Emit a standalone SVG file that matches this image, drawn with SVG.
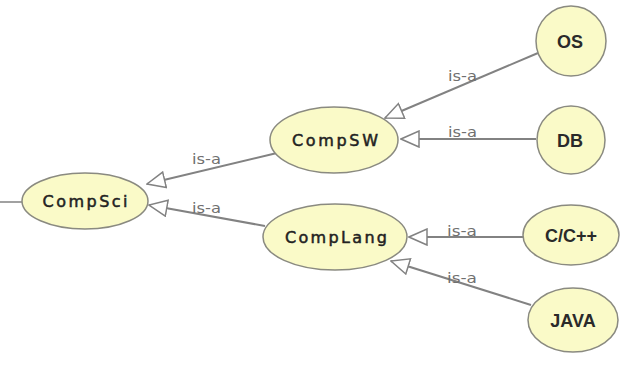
<svg xmlns="http://www.w3.org/2000/svg" width="624" height="369" viewBox="0 0 624 369">
  <style>
    .node { fill: #fafac8; stroke: #8a8a80; stroke-width: 1.5; }
    .label { font-family: "DejaVu Sans", Verdana, sans-serif; font-size: 16px; fill: #222222; stroke: #222222; stroke-width: 0.5; text-anchor: middle; }
    .leaf { font-family: "Liberation Sans", Arial, sans-serif; font-size: 18px; font-weight: bold; fill: #2a2a2a; text-anchor: middle; }
    .edge { stroke: #828282; stroke-width: 2; fill: none; marker-end: url(#isa); }
    .rel { font-family: "DejaVu Sans", Verdana, sans-serif; font-size: 14px; fill: #707070; }
  </style>
  <defs>
    <!-- hollow triangle head for is-a links -->
    <marker id="isa" viewBox="0 0 20 18" refX="19" refY="9" markerWidth="20" markerHeight="18" markerUnits="userSpaceOnUse" orient="auto">
      <path d="M1,1 L19,9 L1,17 Z" fill="#ffffff" stroke="#828282" stroke-width="1.5"/>
    </marker>
  </defs>
  <rect width="624" height="369" fill="#ffffff"/>

  <g id="connectors">
    <line x1="0" y1="202" x2="22" y2="202" stroke="#828282" stroke-width="1.5"/>
    <line class="edge" x1="538" y1="53" x2="385" y2="118"/>
    <line class="edge" x1="536" y1="139" x2="401" y2="139"/>
    <line class="edge" x1="277" y1="153" x2="147" y2="184"/>
    <line class="edge" x1="265" y1="226" x2="149" y2="205"/>
    <line class="edge" x1="523" y1="237" x2="409" y2="237"/>
    <line class="edge" x1="531" y1="305" x2="391" y2="261"/>
    <text class="rel" x="448" y="81" textLength="29" lengthAdjust="spacingAndGlyphs">is-a</text>
    <text class="rel" x="448" y="137" textLength="29" lengthAdjust="spacingAndGlyphs">is-a</text>
    <text class="rel" x="192" y="164" textLength="29" lengthAdjust="spacingAndGlyphs">is-a</text>
    <text class="rel" x="192" y="213" textLength="29" lengthAdjust="spacingAndGlyphs">is-a</text>
    <text class="rel" x="447" y="236" textLength="30" lengthAdjust="spacingAndGlyphs">is-a</text>
    <text class="rel" x="447" y="283" textLength="30" lengthAdjust="spacingAndGlyphs">is-a</text>
  </g>

  <g id="CompSci">
    <ellipse class="node" cx="85" cy="201" rx="63" ry="28"/>
    <text class="label" x="85" y="207" textLength="85" lengthAdjust="spacing">CompSci</text>
  </g>
  <g id="CompSW">
    <ellipse class="node" cx="334" cy="140" rx="64" ry="33"/>
    <text class="label" x="335" y="146" textLength="86" lengthAdjust="spacing">CompSW</text>
  </g>
  <g id="CompLang">
    <ellipse class="node" cx="335" cy="237" rx="72" ry="33"/>
    <text class="label" x="336" y="243" textLength="102" lengthAdjust="spacing">CompLang</text>
  </g>
  <g id="OS">
    <circle class="node" cx="571" cy="41" r="35"/>
    <text class="leaf" x="570" y="48">OS</text>
  </g>
  <g id="DB">
    <circle class="node" cx="571" cy="140" r="34"/>
    <text class="leaf" x="570" y="147">DB</text>
  </g>
  <g id="CCpp">
    <ellipse class="node" cx="571" cy="235" rx="48" ry="30"/>
    <text class="leaf" x="571" y="242">C/C++</text>
  </g>
  <g id="JAVA">
    <ellipse class="node" cx="573" cy="320" rx="45" ry="32"/>
    <text class="leaf" x="573" y="327">JAVA</text>
  </g>
</svg>
